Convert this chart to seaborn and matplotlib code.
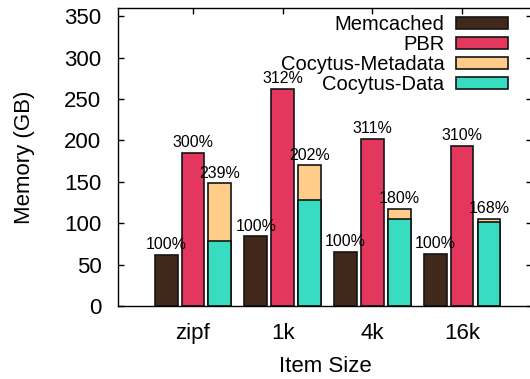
import numpy as np
import pandas as pd
import matplotlib
matplotlib.use("Agg")
import matplotlib.pyplot as plt
import seaborn as sns
from matplotlib.patches import Patch

# Memory footprint per item-size workload (GB)
item_sizes = ["zipf", "1k", "4k", "16k"]
memcached = [62, 84, 65, 62.5]
pbr = [185, 262, 201.5, 193]
cocytus_data = [78.5, 127.5, 105, 101]
cocytus_metadata = [69.5, 42.5, 12, 4]

# Overhead relative to Memcached, printed above each bar
memcached_labels = ["100%", "100%", "100%", "100%"]
pbr_labels = ["300%", "312%", "311%", "310%"]
cocytus_labels = ["239%", "202%", "180%", "168%"]

legend_names = ["Memcached", "PBR", "Cocytus-Metadata", "Cocytus-Data"]
colors = {
    "Memcached": "#40281a",
    "PBR": "#e4375e",
    "Cocytus-Metadata": "#ffcc8a",
    "Cocytus-Data": "#38dcc0",
}

sns.set_theme(style="ticks")
plt.rcParams["font.family"] = ["Liberation Sans", "DejaVu Sans"]
plt.rcParams["text.color"] = "black"
plt.rcParams["axes.labelcolor"] = "black"
plt.rcParams["xtick.color"] = "black"
plt.rcParams["ytick.color"] = "black"

systems = ["Memcached", "PBR", "Cocytus"]
cocytus_total = [d + m for d, m in zip(cocytus_data, cocytus_metadata)]

rows = []
for i, item in enumerate(item_sizes):
    rows.append((item, "Memcached", memcached[i]))
    rows.append((item, "PBR", pbr[i]))
    rows.append((item, "Cocytus", cocytus_total[i]))
totals = pd.DataFrame(rows, columns=["item", "system", "value"])
data_part = pd.DataFrame({"item": item_sizes, "system": "Cocytus", "value": cocytus_data})

fig = plt.figure(figsize=(5.30, 3.79), dpi=100)
ax = fig.add_axes([118 / 530, 1 - 306 / 379, 414 / 530, 298 / 379])

edge = "#151515"
lw = 1.2
bar_kw = dict(x="item", y="value", hue="system", order=item_sizes, hue_order=systems,
              dodge=True, width=0.9, gap=0.15, errorbar=None, saturation=1,
              edgecolor=edge, linewidth=lw, legend=False, ax=ax)

# Full stacks (Cocytus total drawn in the metadata colour)
sns.barplot(data=totals,
            palette={"Memcached": colors["Memcached"], "PBR": colors["PBR"],
                     "Cocytus": colors["Cocytus-Metadata"]},
            **bar_kw)
label_sets = [memcached_labels, pbr_labels, cocytus_labels]
for container, labels in zip(ax.containers, label_sets):
    ax.bar_label(container, labels=labels, padding=2, fontsize=11.5, color="black")

# Data portion of the Cocytus stack
sns.barplot(data=data_part,
            palette={"Memcached": colors["Memcached"], "PBR": colors["PBR"],
                     "Cocytus": colors["Cocytus-Data"]},
            **bar_kw)

ax.set_xlim(-0.836, 3.78)
ax.set_ylim(0, 360)
ax.set_yticks(np.arange(0, 351, 50))
ax.tick_params(direction="in", length=4, width=1, top=True, right=True,
               labelsize=16, color="black", labelcolor="black")
ax.tick_params(axis="y", pad=12)
ax.tick_params(axis="x", pad=12)
for s in ax.spines.values():
    s.set_visible(True)
    s.set_color("black")
    s.set_linewidth(1)

ax.set_xlabel("Item Size", fontsize=16)
ax.set_ylabel("Memory (GB)", fontsize=16)
ax.xaxis.set_label_coords(0.5, -0.168)
ax.yaxis.set_label_coords(-0.2, 0.5)

# Right-aligned labels with swatches on the right
handles = [Patch(facecolor=colors[k], edgecolor=edge, linewidth=lw) for k in legend_names]
ax.legend(handles, legend_names, loc="upper right",
          bbox_to_anchor=(508 / 530, 1 - 15 / 379), bbox_transform=fig.transFigure,
          frameon=False, markerfirst=False, fontsize=14.5, handlelength=2.6,
          handleheight=0.5, handletextpad=0.55, labelspacing=0.05, borderaxespad=0,
          borderpad=0)

fig.savefig("out.png", dpi=100)
